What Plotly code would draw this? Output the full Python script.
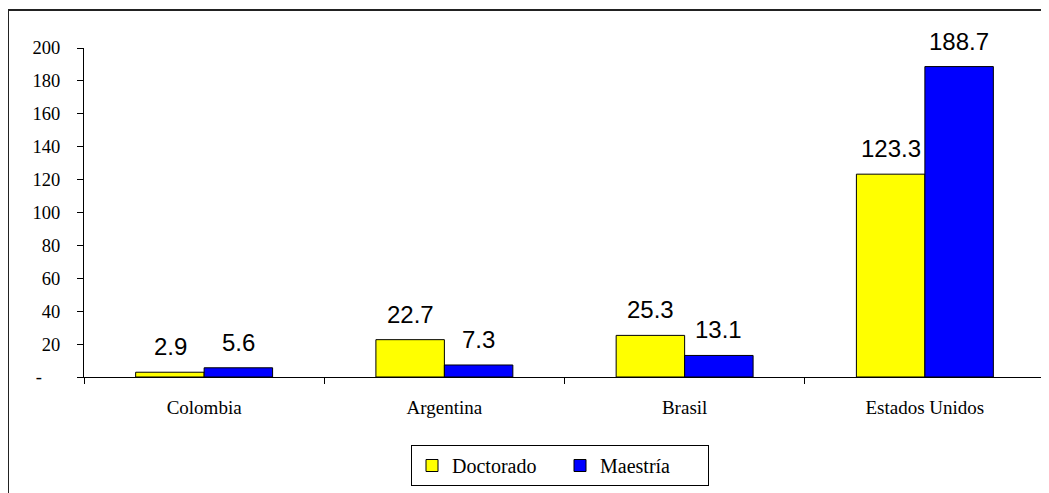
import plotly.graph_objects as go

categories = ["Colombia", "Argentina", "Brasil", "Estados Unidos"]
doctorado = [2.9, 22.7, 25.3, 123.3]
maestria = [5.6, 7.3, 13.1, 188.7]
tick_vals = [0, 20, 40, 60, 80, 100, 120, 140, 160, 180, 200]
tick_text = ["-\u00a0\u00a0\u00a0\u00a0", "20", "40", "60", "80", "100", "120", "140", "160", "180", "200"]

# page body has an 8px margin, so the figure is drawn 8px smaller
W, H = 1041, 485
L, R, T, B = 76, 4, 40, 116
pw, ph = W - L - R, H - T - B

def px(x):
    return (x - L) / pw

def py(y):
    return (H - B - y) / ph

SERIF = "Liberation Serif"
fig = go.Figure()
fig.add_trace(go.Bar(
    name="Doctorado", x=categories, y=doctorado,
    marker=dict(color="#FFFF00", line=dict(color="black", width=1)),
))
fig.add_trace(go.Bar(
    name="Maestría", x=categories, y=maestria,
    marker=dict(color="#0000FF", line=dict(color="black", width=1)),
))

annotations = []
for vals, shift in ((doctorado, -34), (maestria, 34)):
    for c, v in zip(categories, vals):
        annotations.append(dict(
            x=c, y=v, xref="x", yref="y", text=f"{v:.1f}", showarrow=False,
            xshift=shift, yshift=10, yanchor="bottom",
            font=dict(family="Liberation Sans", size=24, color="black"),
        ))

fig.update_layout(
    width=W, height=H,
    margin=dict(l=L, r=R, t=T, b=B, pad=0),
    paper_bgcolor="white", plot_bgcolor="white",
    barmode="group", bargap=0.43, bargroupgap=0,
    font=dict(family=SERIF, size=18, color="black"),
    showlegend=True,
    legend=dict(
        orientation="h", x=px(552), xanchor="center", y=py(437), yanchor="top",
        bordercolor="black", borderwidth=1, bgcolor="white",
        font=dict(family=SERIF, size=20, color="black"),
        traceorder="normal", entrywidth=103,
    ),
    xaxis=dict(
        showline=True, linecolor="black", linewidth=1,
        ticks="outside", ticklen=6, tickcolor="black", tickson="boundaries",
        showgrid=False, tickfont=dict(family=SERIF, size=19, color="black"),
        ticklabelstandoff=13,
    ),
    yaxis=dict(
        range=[0, 200], tickvals=tick_vals, ticktext=tick_text,
        showline=True, linecolor="black", linewidth=1,
        ticks="outside", ticklen=6, tickcolor="black",
        showgrid=False, zeroline=False,
        tickfont=dict(family=SERIF, size=18.5, color="black"),
        ticklabelstandoff=13,
    ),
    annotations=annotations,
    shapes=[dict(
        type="rect", xref="paper", yref="paper",
        x0=px(0), x1=px(1060), y0=py(510), y1=py(2),
        line=dict(color="#222222", width=2), layer="below",
    )],
)

fig.write_html("out.html")
